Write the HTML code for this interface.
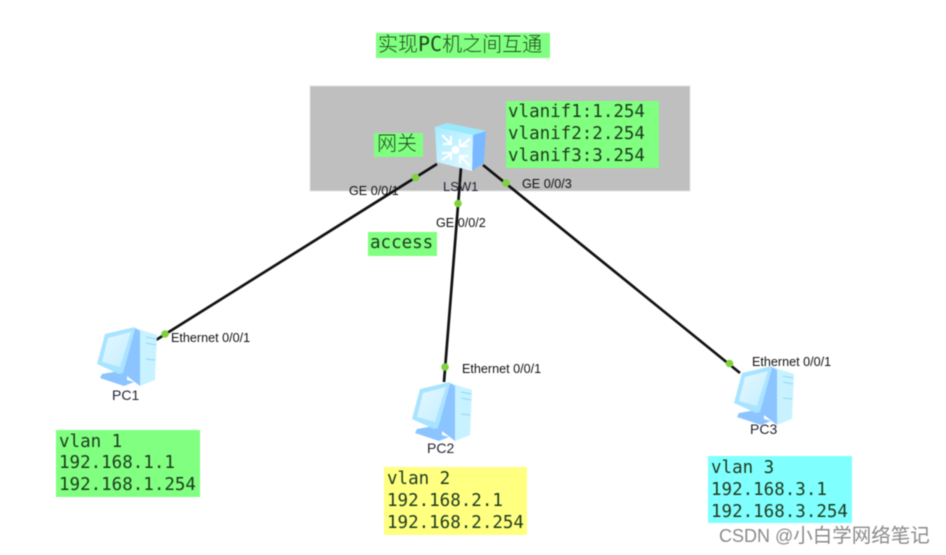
<!DOCTYPE html>
<html><head><meta charset="utf-8"><style>
html,body{margin:0;padding:0;background:#fff;width:946px;height:555px;overflow:hidden}
svg{display:block;filter:blur(.5px)}
.m{font-family:"DejaVu Sans Mono","Liberation Mono",monospace;font-size:17.5px;fill:#1c3a1c}
.c{font-family:"DejaVu Sans Mono","Noto Sans CJK SC",monospace;font-size:20px;fill:#1c4a1c;font-weight:300}
.l{font-family:"Liberation Sans",Arial,sans-serif;font-size:12.6px;fill:#111}
.p{font-family:"Liberation Sans",Arial,sans-serif;font-size:14px;fill:#223}
</style></head><body>
<svg width="946" height="555" viewBox="0 0 946 555" xmlns="http://www.w3.org/2000/svg">
<defs>
<linearGradient id="sw" x1="0" y1="0" x2="1" y2="1"><stop offset="0" stop-color="#a8ecff"/><stop offset="1" stop-color="#e4f9ff"/></linearGradient>
<linearGradient id="scr" x1="0" y1="0" x2="1" y2="1"><stop offset="0" stop-color="#e6f8ff"/><stop offset="1" stop-color="#c4eeff"/></linearGradient>
<g id="pc">
<path d="M95 8L117 15L115 60L100 66L90 30Z" fill="#c8f2ff"/>
<path d="M106 17L116 19M106 23L116 25M106 39L115 40" stroke="#8fd8f8" stroke-width="1" fill="none"/>
<path d="M95 8L100 11L100 66L83 53Z" fill="#8cc4ff"/>
<path d="M62 54L79 51L79 47L87 47L87 60L94 62L84 66L60 58Z" fill="#8cc4ff"/>
<path d="M57 44L65 14L95 7L83 53L79 54Z" fill="#a8e4ff"/>
<path d="M62 42L68 18L91 12L80 47Z" fill="url(#scr)"/>
</g>
</defs>

<rect x="310" y="86" width="380" height="105" fill="#bfbfbf" stroke="#e2e2e2" stroke-width="1"/>

<rect x="376" y="33" width="174" height="25" fill="#80ff80"/>
<text class="c" x="378" y="51">实现PC机之间互通</text>

<rect x="506" y="101" width="153" height="67" fill="#80ff80"/>
<text class="m" x="508" y="117">vlanif1:1.254</text>
<text class="m" x="508" y="139">vlanif2:2.254</text>
<text class="m" x="508" y="161">vlanif3:3.254</text>

<rect x="374" y="133" width="49" height="24" fill="#80ff80"/>
<text class="c" x="377" y="150">网关</text>

<rect x="368" y="232" width="69" height="24" fill="#80ff80"/>
<text class="m" x="370" y="248">access</text>

<g stroke="#111" stroke-width="2.700" fill="none">
<line x1="437" y1="164" x2="156" y2="340"/>
<line x1="461" y1="168" x2="444" y2="382"/>
<line x1="483" y1="165" x2="740" y2="373"/>
</g>

<!-- switch -->
<path d="M435 127L447 123L486 131L484 163L472 171L437 162Z" fill="#bdf0ff"/>
<path d="M473 135L486 131L484 163L472 171Z" fill="#7ab8ff"/>
<path d="M435 127L447 123L486 131L473 135Z" fill="#9ae8fb"/>
<path d="M435 127L473 135L472 171L437 162Z" fill="url(#sw)"/>
<circle cx="455.500" cy="150" r="4" fill="#fff"/>
<g stroke="#fff" stroke-width="2.200" fill="none">
<path d="M442 135L451 144M451 136V144H443"/>
<path d="M470 139L461 146M460 139V146H468"/>
<path d="M442 160L451 154M442 153H451V160"/>
<path d="M470 166L460 156M460 164V156H468"/>
</g>

<use href="#pc" transform="translate(40,320)"/>
<use href="#pc" transform="translate(355,375)"/>
<use href="#pc" transform="translate(677,359)"/>

<g fill="#7ed23c">
<circle cx="415.500" cy="177.500" r="3.800"/>
<circle cx="458" cy="203.500" r="3.800"/>
<circle cx="506" cy="183" r="3.800"/>
<circle cx="165" cy="334" r="3.800"/>
<circle cx="445" cy="367" r="3.800"/>
<circle cx="729.500" cy="363.500" r="3.800"/>
</g>

<text class="l" x="349" y="195">GE 0/0/1</text>
<text class="p" x="443" y="191" style="font-size:13px">LSW1</text>
<text class="l" x="436" y="227">GE 0/0/2</text>
<text class="l" x="522" y="188">GE 0/0/3</text>
<text class="l" x="171" y="342">Ethernet 0/0/1</text>
<text class="l" x="462" y="373">Ethernet 0/0/1</text>
<text class="l" x="752" y="366">Ethernet 0/0/1</text>
<text class="p" x="112" y="400">PC1</text>
<text class="p" x="427" y="453">PC2</text>
<text class="p" x="750" y="434">PC3</text>

<rect x="56" y="430" width="144" height="67" fill="#80ff80"/>
<text class="m" x="59" y="447">vlan 1</text>
<text class="m" x="59" y="468">192.168.1.1</text>
<text class="m" x="59" y="490">192.168.1.254</text>

<rect x="384" y="467" width="143" height="68" fill="#ffff80"/>
<text class="m" x="387" y="484">vlan 2</text>
<text class="m" x="387" y="506">192.168.2.1</text>
<text class="m" x="387" y="528">192.168.2.254</text>

<rect x="708" y="456" width="144" height="67" fill="#80ffff"/>
<text class="m" x="711" y="473">vlan 3</text>
<text class="m" x="711" y="495">192.168.3.1</text>
<text class="m" x="711" y="517">192.168.3.254</text>

<text x="719" y="542" fill="#8a8a8a" style="font-family:'Liberation Sans','Noto Sans CJK SC',sans-serif;font-size:18px">CSDN @<tspan style="font-size:19.500px">小白学网络笔记</tspan></text>
</svg>
</body></html>
